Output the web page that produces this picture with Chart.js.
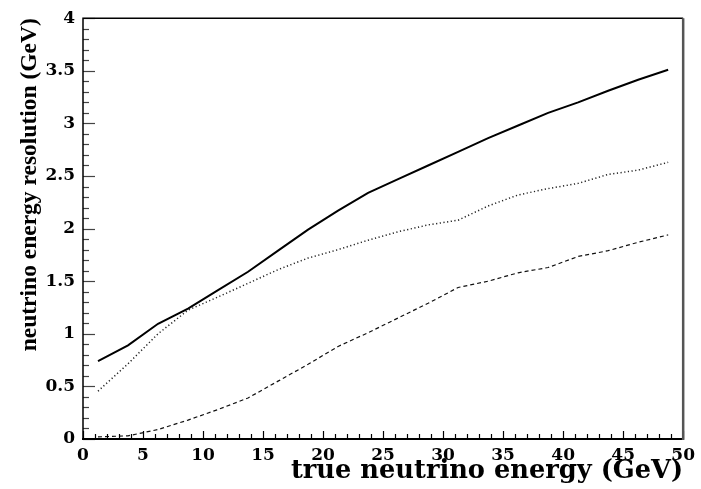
<!DOCTYPE html>
<html>
<head>
<meta charset="utf-8">
<script src="https://cdn.jsdelivr.net/npm/chart.js@4"></script>
<style>
  html, body { margin: 0; padding: 0; background: #fff; }
  #wrap { width: 701px; height: 489px; }
</style>
</head>
<body>
<div id="wrap"><canvas id="c" width="701" height="489"></canvas></div>
<script>
// true neutrino energy bin centres (GeV)
const energies = [1.25, 3.75, 6.25, 8.75, 11.25, 13.75, 16.25, 18.75, 21.25, 23.75,
                  26.25, 28.75, 31.25, 33.75, 36.25, 38.75, 41.25, 43.75, 46.25, 48.75];
// resolution curves (GeV)
const solidRes  = [0.74, 0.89, 1.095, 1.24, 1.415, 1.59, 1.79, 1.99, 2.17, 2.34,
                   2.47, 2.60, 2.73, 2.86, 2.98, 3.10, 3.20, 3.31, 3.415, 3.51];
const dottedRes = [0.455, 0.715, 1.0, 1.225, 1.35, 1.48, 1.61, 1.72, 1.80, 1.89,
                   1.97, 2.035, 2.08, 2.215, 2.32, 2.38, 2.43, 2.515, 2.556, 2.63];
const dashedRes = [0.02, 0.03, 0.09, 0.18, 0.28, 0.39, 0.55, 0.71, 0.88, 1.01,
                   1.15, 1.29, 1.44, 1.50, 1.58, 1.63, 1.735, 1.79, 1.87, 1.94];
const xTickValues = [0, 5, 10, 15, 20, 25, 30, 35, 40, 45, 50];
const yTickValues = [0, 0.5, 1, 1.5, 2, 2.5, 3, 3.5, 4];

const xTitle = 'true neutrino energy (GeV)';
const yTitle = 'neutrino energy resolution (GeV)';

const pts = arr => energies.map((e, i) => ({ x: e, y: arr[i] }));

const serif = "'Liberation Serif', 'DejaVu Serif', serif";
const wideSerif = "'DejaVu Serif', 'Liberation Serif', serif";

// frame and inner minor/major tick marks, ROOT style
const framePlugin = {
  id: 'frame',
  afterDraw(chart) {
    const ctx = chart.ctx;
    const a = chart.chartArea;
    const xs = chart.scales.x, ys = chart.scales.y;
    ctx.save();
    ctx.setLineDash([]);
    ctx.lineCap = 'butt';
    ctx.strokeStyle = '#000';
    ctx.lineWidth = 1.2;
    for (let v = 0; v <= 50; v += 1) {
      const px = Math.round(xs.getPixelForValue(v)) + 0.5;
      const len = (v % 5 === 0) ? 8 : 5;
      ctx.beginPath();
      ctx.moveTo(px, a.bottom);
      ctx.lineTo(px, a.bottom - len);
      ctx.stroke();
    }
    ctx.strokeStyle = '#444';
    for (let i = 0; i <= 40; i++) {
      const py = Math.round(ys.getPixelForValue(i / 10)) + 0.5;
      const len = (i % 5 === 0) ? 12 : 6;
      ctx.beginPath();
      ctx.moveTo(a.left, py);
      ctx.lineTo(a.left + len, py);
      ctx.stroke();
    }
    ctx.strokeStyle = '#000';
    ctx.lineWidth = 1.5;
    ctx.beginPath();
    ctx.moveTo(a.left, a.bottom);
    ctx.lineTo(a.left, a.top);
    ctx.lineTo(a.right, a.top);
    ctx.stroke();
    ctx.lineWidth = 2;
    ctx.beginPath();
    ctx.moveTo(a.left - 1, a.bottom);
    ctx.lineTo(a.right, a.bottom);
    ctx.stroke();
    ctx.strokeStyle = '#555';
    ctx.lineWidth = 2.5;
    ctx.beginPath();
    ctx.moveTo(a.right, a.top);
    ctx.lineTo(a.right, a.bottom + 1);
    ctx.stroke();
    ctx.restore();
  }
};

new Chart(document.getElementById('c'), {
  type: 'line',
  data: {
    datasets: [
      { label: 'total', data: pts(solidRes), borderColor: '#000', borderWidth: 2,
        pointRadius: 0, tension: 0, fill: false },
      { label: 'dotted', data: pts(dottedRes), borderColor: '#222', borderWidth: 1.5,
        borderDash: [1.2, 2.5], pointRadius: 0, tension: 0, fill: false },
      { label: 'dashed', data: pts(dashedRes), borderColor: '#111', borderWidth: 1.2,
        borderDash: [4, 3], pointRadius: 0, tension: 0, fill: false }
    ]
  },
  options: {
    responsive: false,
    animation: false,
    layout: { padding: { top: 16, right: 17, left: 0, bottom: 0 } },
    plugins: { legend: { display: false }, tooltip: { enabled: false } },
    scales: {
      x: {
        type: 'linear', min: 0, max: 50,
        afterFit(s) { s.height = 50; },
        afterBuildTicks(s) { s.ticks = xTickValues.map(v => ({ value: v })); },
        grid: { display: false, drawTicks: false },
        border: { display: false },
        ticks: { color: '#000', padding: 6, maxRotation: 0, autoSkip: false,
                 callback: v => String(v),
                 font: { family: wideSerif, size: 17, weight: 'bold' } },
        title: { display: true, text: xTitle, align: 'end', color: '#000',
                 padding: { top: 0, bottom: 2 },
                 font: { family: wideSerif, size: 25.7, weight: 'bold' } }
      },
      y: {
        type: 'linear', min: 0, max: 4,
        afterFit(s) { s.width = 83; },
        afterBuildTicks(s) { s.ticks = yTickValues.map(v => ({ value: v })); },
        grid: { display: false, drawTicks: false },
        border: { display: false },
        ticks: { color: '#000', padding: 8, autoSkip: false,
                 callback: v => String(v),
                 font: { family: wideSerif, size: 17, weight: 'bold' } },
        title: { display: true, text: yTitle, align: 'end', color: '#000',
                 padding: { top: 16, bottom: 0 },
                 font: { family: serif, size: 23.5, weight: 'bold' } }
      }
    }
  },
  plugins: [framePlugin]
});
</script>
</body>
</html>
